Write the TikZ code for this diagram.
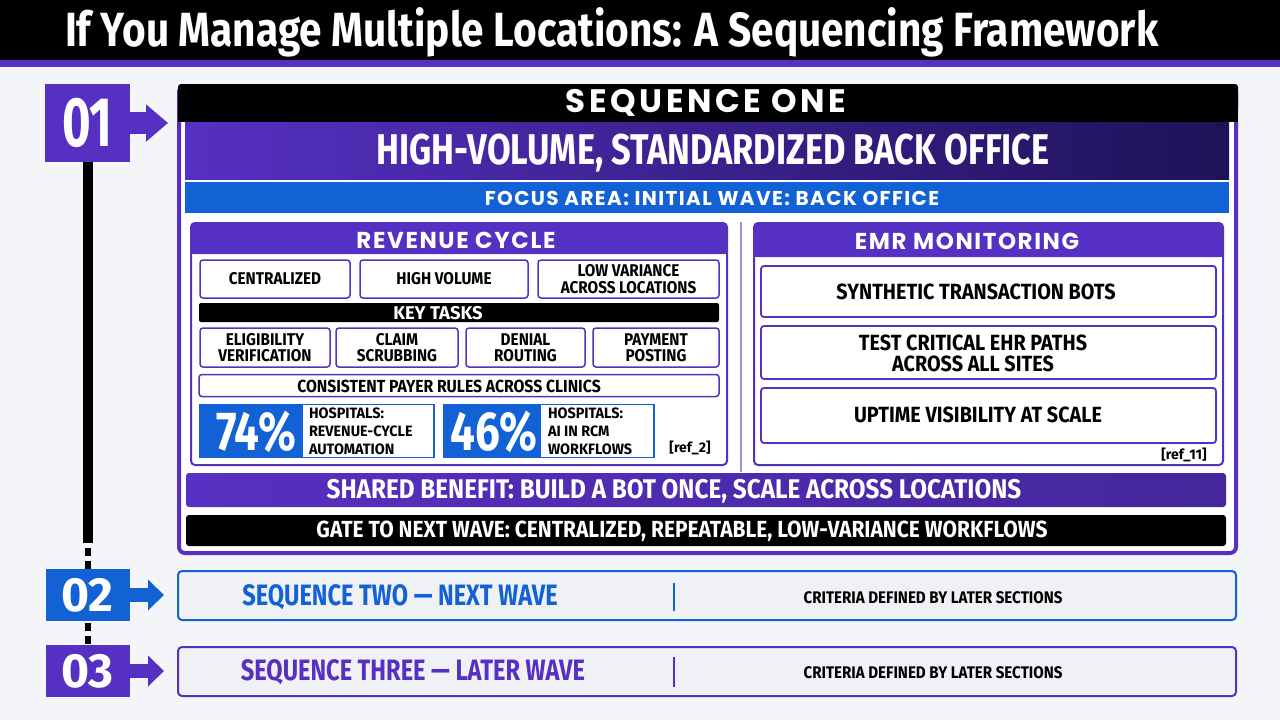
\documentclass[tikz,border=0pt]{standalone}
\usepackage{fontspec}
\setmainfont{Fira Sans}
\newfontfamily\tcond{Fira Sans}[FakeStretch=0.845]
\newfontfamily\cond{Fira Sans}[FakeStretch=0.8]
\newfontfamily\mcond{Fira Sans}[FakeStretch=0.9]
\newfontfamily\lcond{Fira Sans}[FakeStretch=0.96]
\newfontfamily\ccond{Fira Sans}[FakeStretch=0.7]
\newfontfamily\popw{Poppins}[LetterSpace=7]
\newfontfamily\poph{Poppins}[LetterSpace=11]
\usetikzlibrary{arrows.meta}
\newcommand\fsz[2]{\fontsize{#1pt}{#2pt}\selectfont}
\definecolor{bg}{HTML}{F4F5F8}
\definecolor{purp}{HTML}{5630C2}
\definecolor{dpurp}{HTML}{1E1258}
\definecolor{blu}{HTML}{1262D6}
\definecolor{seqfill}{HTML}{F0F1F4}
\begin{document}
\begin{tikzpicture}[x=1pt,y=-1pt,
  every node/.style={inner sep=0pt, outer sep=0pt},
  cell/.style={draw=purp, line width=1.5pt, fill=white, rounded corners=3pt, align=center, font=\mcond\bfseries\fsz{17}{16.5}},
  emrcell/.style={draw=purp, line width=1.8pt, fill=white, rounded corners=3pt, minimum width=455pt},
  emrtext/.style={align=center, font=\mcond\bfseries\fsz{22}{21}},
  stat/.style={draw=blu, line width=1.5pt, fill=white, minimum height=53pt},
  pct/.style={text=white, font=\cond\bfseries\fsz{55}{55}},
  statlbl/.style={anchor=west, align=left, font=\lcond\bfseries\fsz{15}{18}},
  reflbl/.style={font=\bfseries\fsz{14}{14}},
  panel/.style={draw=purp, line width=2pt, fill=white, rounded corners=4pt},
  paneltitle/.style={text=white, font=\popw\bfseries\fsz{23}{23}},
  marker/.style={text=white, font=\bfseries\fsz{#1}{#1}},
  seqbox/.style={draw=#1, line width=2pt, fill=seqfill, rounded corners=4pt, minimum width=1058pt, minimum height=49pt},
  seqtitle/.style={text=#1, font=\cond\bfseries\fsz{29.5}{30}},
  crit/.style={font=\mcond\bfseries\fsz{16.8}{17}},
  ]
\useasboundingbox (0,0) rectangle (1280,720);
\fill[bg] (0,0) rectangle (1280,720);
% title bar
\fill[black] (0,0) rectangle (1280,60);
\fill[purp] (0,60) rectangle (1280,67);
\node[anchor=base west, text=white, font=\tcond\bfseries\fsz{48}{50}] (title) at (65,46) {If You Manage Multiple Locations: A Sequencing Framework};

% sequence one frame
\node[draw=purp, line width=4pt, fill=white, rounded corners=6pt, minimum width=1057pt, minimum height=467pt] (seq1) at (707.5,319.5) {};
\fill[black, rounded corners=3pt] (178,84) rectangle (1238,110);
\fill[black] (178,100) rectangle (1238,122);
\node[text=white, font=\poph\bfseries\fsz{32.5}{32.5}] (hdr) at (706,103) {SEQUENCE ONE};
\node[left color=purp, right color=dpurp, minimum width=1044pt, minimum height=57pt] (banner) at (707,150.5) {};
\node[text=white, font=\cond\bfseries\fsz{43}{43}] (bannert) at (713,153) {HIGH-VOLUME, STANDARDIZED BACK OFFICE};
\node[fill=blu, minimum width=1044pt, minimum height=31pt] (focus) at (707,197.5) {};
\node[text=white, font=\popw\bfseries\fsz{20}{20}] (focust) at (712,198) {FOCUS AREA: INITIAL WAVE: BACK OFFICE};

% revenue cycle panel
\node[panel, minimum width=536pt, minimum height=242pt] (rev) at (459,344) {};
\fill[purp, rounded corners=4pt] (rev.north west) rectangle (727,254);
\fill[purp] (191,246) rectangle (727,254);
\node[paneltitle] (revt) at (456,240) {REVENUE CYCLE};
\node[cell, minimum width=150pt, minimum height=38pt] (c1) at (275,279) {CENTRALIZED};
\node[cell, minimum width=168pt, minimum height=38pt] (c2) at (444,279) {HIGH VOLUME};
\node[cell, minimum width=181pt, minimum height=38pt] (c3) at (628.5,279) {LOW VARIANCE\\ACROSS LOCATIONS};
\node[fill=black, rounded corners=2pt, minimum width=520pt, minimum height=19pt] (kt) at (459,312.5) {};
\node[text=white, font=\bfseries\fsz{18.5}{18.5}] (ktt) at (438,313) {KEY TASKS};
\node[cell, minimum width=130pt, minimum height=39pt] (t1) at (265,347.5) {ELIGIBILITY\\VERIFICATION};
\node[cell, minimum width=122pt, minimum height=39pt] (t2) at (397,347.5) {CLAIM\\SCRUBBING};
\node[cell, minimum width=119pt, minimum height=39pt] (t3) at (525.5,347.5) {DENIAL\\ROUTING};
\node[cell, minimum width=126pt, minimum height=39pt] (t4) at (656,347.5) {PAYMENT\\POSTING};
\node[cell, minimum width=520pt, minimum height=22pt] (cons) at (459,385.5) {};
\node[font=\mcond\bfseries\fsz{17.5}{17.5}] (const) at (449,386) {CONSISTENT PAYER RULES ACROSS CLINICS};
\node[stat, minimum width=234pt] (s1) at (317,431) {};
\fill[blu] (s1.north west) rectangle ([xshift=103pt]s1.south west);
\node[pct] (p1) at (256,431.5) {74\%};
\node[statlbl] (l1) at (309,431) {HOSPITALS:\\REVENUE-CYCLE\\AUTOMATION};
\node[stat, minimum width=210pt] (s2) at (549,431) {};
\fill[blu] (s2.north west) rectangle ([xshift=97pt]s2.south west);
\node[pct] (p2) at (494,431.5) {46\%};
\node[statlbl] (l2) at (548,431) {HOSPITALS:\\AI IN RCM\\WORKFLOWS};
\node[reflbl] (r2) at (690,448) {[ref\_2]};

% divider
\draw[purp!55, line width=1.5pt] (741,222) -- (741,472);

% EMR panel
\node[panel, minimum width=469pt, minimum height=242pt] (emr) at (988.5,344) {};
\fill[purp, rounded corners=4pt] (emr.north west) rectangle (1223,257);
\fill[purp] (754,249) rectangle (1223,257);
\node[paneltitle] (emrt) at (967,241) {EMR MONITORING};
\node[emrcell, minimum height=51pt] (e1) at (988.5,291.5) {};
\node[emrtext] (e1t) at (976,292) {SYNTHETIC TRANSACTION BOTS};
\node[emrcell, minimum height=53pt] (e2) at (988.5,352.5) {};
\node[emrtext] (e2t) at (973,353) {TEST CRITICAL EHR PATHS\\ACROSS ALL SITES};
\node[emrcell, minimum height=55pt] (e3) at (988.5,415.5) {};
\node[emrtext] (e3t) at (978,415) {UPTIME VISIBILITY AT SCALE};
\node[reflbl] (r11) at (1184,455) {[ref\_11]};

% shared benefit and gate
\node[left color=purp, right color=purp!80!black, rounded corners=3pt, minimum width=1040pt, minimum height=34pt] (share) at (706,490) {};
\node[text=white, font=\mcond\bfseries\fsz{27}{27}] (sharet) at (674,491) {SHARED BENEFIT: BUILD A BOT ONCE, SCALE ACROSS LOCATIONS};
\node[fill=black, rounded corners=3pt, minimum width=1040pt, minimum height=31pt] (gate) at (706,530.5) {};
\node[text=white, font=\mcond\bfseries\fsz{23.3}{23.3}] (gatet) at (682,531) {GATE TO NEXT WAVE: CENTRALIZED, REPEATABLE, LOW-VARIANCE WORKFLOWS};

% sequence two and three
\node[seqbox=blu] (seq2) at (707,595.5) {};
\node[seqtitle=blu] (seq2t) at (400,597) {SEQUENCE TWO — NEXT WAVE};
\draw[blu, line width=1.2pt] (674,583) -- (674,611);
\node[crit] (seq2c) at (933,598) {CRITERIA DEFINED BY LATER SECTIONS};
\node[seqbox=purp] (seq3) at (707,671.5) {};
\node[seqtitle=purp] (seq3t) at (413,672) {SEQUENCE THREE — LATER WAVE};
\draw[purp, line width=1.2pt] (674,657) -- (674,687);
\node[crit] (seq3c) at (933,673) {CRITERIA DEFINED BY LATER SECTIONS};

% timeline markers
\node[fill=purp, minimum width=85pt, minimum height=78pt, text=white, font=\ccond\bfseries\fsz{70}{70}] (m1) at (87.5,123) {01};
\node[fill=blu, minimum width=84pt, minimum height=52pt, marker=48] (m2) at (87.5,595) {02};
\node[fill=purp, minimum width=84pt, minimum height=52pt, marker=48] (m3) at (87.5,671) {03};
\coordinate (lb) at (87.5,543);
\draw[black, line width=10pt] (m1.south) -- (lb);
\draw[black, line width=6pt, dash pattern=on 8pt off 5pt, dash phase=8pt] (lb) -- (m2.north);
\draw[black, line width=6pt, dash pattern=on 8pt off 5pt, dash phase=11pt] (m2.south) -- (m3.north);
\draw[purp, line width=22pt, -{Triangle[length=22pt,width=36pt]}, shorten >=11pt] (m1.east) -- (m1.east -| seq1.west);
\draw[blu, line width=14pt, -{Triangle[length=16pt,width=30pt]}, shorten >=14pt] (m2.east) -- (m2.east -| seq2.west);
\draw[purp, line width=14pt, -{Triangle[length=16pt,width=30pt]}, shorten >=14pt] (m3.east) -- (m3.east -| seq3.west);
\end{tikzpicture}
\end{document}
